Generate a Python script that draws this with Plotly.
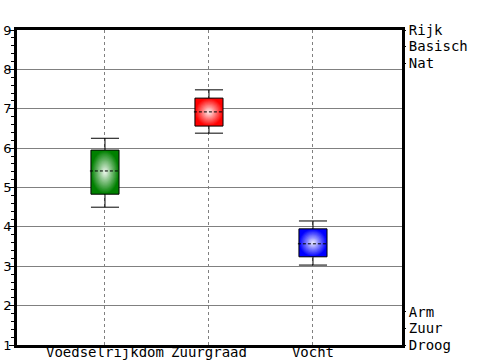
import plotly.graph_objects as go

categories = ["Voedselrijkdom", "Zuurgraad", "Vocht"]
lower = [4.50, 6.38, 3.03]
q1 = [4.83, 6.56, 3.24]
median = [5.42, 6.92, 3.57]
q3 = [5.95, 7.27, 3.95]
upper = [6.25, 7.48, 4.15]
colors = [(0, 128, 0), (255, 0, 0), (0, 0, 255)]
right_vals = [9.0, 8.58, 8.16, 1.84, 1.42, 1.0]
right_text = ["Rijk", "Basisch", "Nat", "Arm", "Zuur", "Droog"]

mono = "DejaVu Sans Mono"
hw = 0.135  # half box width in category units

fig = go.Figure()
shapes = []
for i in range(len(categories)):
    x = i
    base = colors[i]
    for a, b in [(lower[i], q1[i]), (q3[i], upper[i])]:
        fig.add_trace(go.Scatter(x=[x, x], y=[a, b], mode="lines",
                                 line=dict(color="black", width=1), showlegend=False, hoverinfo="skip"))
    for v in [lower[i], upper[i]]:
        fig.add_trace(go.Scatter(x=[x - hw, x + hw], y=[v, v], mode="lines",
                                 line=dict(color="black", width=1), showlegend=False, hoverinfo="skip"))
    shapes.append(dict(type="rect", xref="x", yref="y", x0=x - hw, x1=x + hw, y0=q1[i], y1=q3[i],
                       fillcolor="rgb(%d,%d,%d)" % base, line=dict(width=0), layer="above"))
    N = 30
    cx = x
    cy = (q1[i] + q3[i]) / 2
    ry = (q3[i] - q1[i]) / 2
    for k in range(N):
        t = 1 - k / N
        w = 0.95 * (1 - t)
        c = tuple(int(round(base[j] + (255 - base[j]) * w)) for j in range(3))
        shapes.append(dict(type="circle", xref="x", yref="y",
                           x0=cx - hw * t, x1=cx + hw * t, y0=cy - ry * t, y1=cy + ry * t,
                           fillcolor="rgb(%d,%d,%d)" % c, line=dict(width=0), layer="above"))
    shapes.append(dict(type="rect", xref="x", yref="y", x0=x - hw, x1=x + hw, y0=q1[i], y1=q3[i],
                       fillcolor="rgba(0,0,0,0)", line=dict(color="black", width=1), layer="above"))
    shapes.append(dict(type="line", xref="x", yref="y", x0=x - hw - 0.01, x1=x + hw, y0=median[i], y1=median[i],
                       line=dict(color="black", width=1, dash="3px,2px"), layer="above"))

fig.add_trace(go.Scatter(x=[0], y=[5], yaxis="y2", mode="markers", marker=dict(opacity=0),
                         showlegend=False, hoverinfo="skip"))

fig.update_layout(
    width=500, height=360,
    margin=dict(l=17, r=98, t=30, b=15, autoexpand=False),
    plot_bgcolor="white", paper_bgcolor="white",
    shapes=shapes,
    xaxis=dict(range=[-0.846, 2.856], tickvals=[0, 1, 2], ticktext=categories, automargin=False,
               showgrid=True, gridcolor="#808080", griddash="3px,3px", gridwidth=1,
               showline=True, linecolor="black", linewidth=3, mirror=True,
               ticks="", ticklen=0, ticklabelstandoff=-8,
               tickfont=dict(family=mono, size=14, color="black"), zeroline=False),
    yaxis=dict(range=[1, 9], dtick=1, showgrid=True, gridcolor="#808080", gridwidth=1, automargin=False,
               showline=True, linecolor="black", linewidth=3, mirror=True,
               ticks="outside", ticklen=5, tickcolor="black", ticklabelstandoff=-5,
               minor=dict(dtick=0.2, ticks="outside", ticklen=3, tickcolor="black", showgrid=False),
               tickfont=dict(family="DejaVu Sans", size=13, color="black"), zeroline=False),
    yaxis2=dict(range=[1, 9], overlaying="y", side="right", tickvals=right_vals, ticktext=right_text,
                automargin=False, showgrid=False, ticks="outside", ticklen=3, tickcolor="black", zeroline=False,
                tickfont=dict(family=mono, size=14, color="black")),
)

fig.write_html("out.html", config={"displayModeBar": False},
               post_script="document.body.style.margin='0';document.body.style.overflow='hidden';")
